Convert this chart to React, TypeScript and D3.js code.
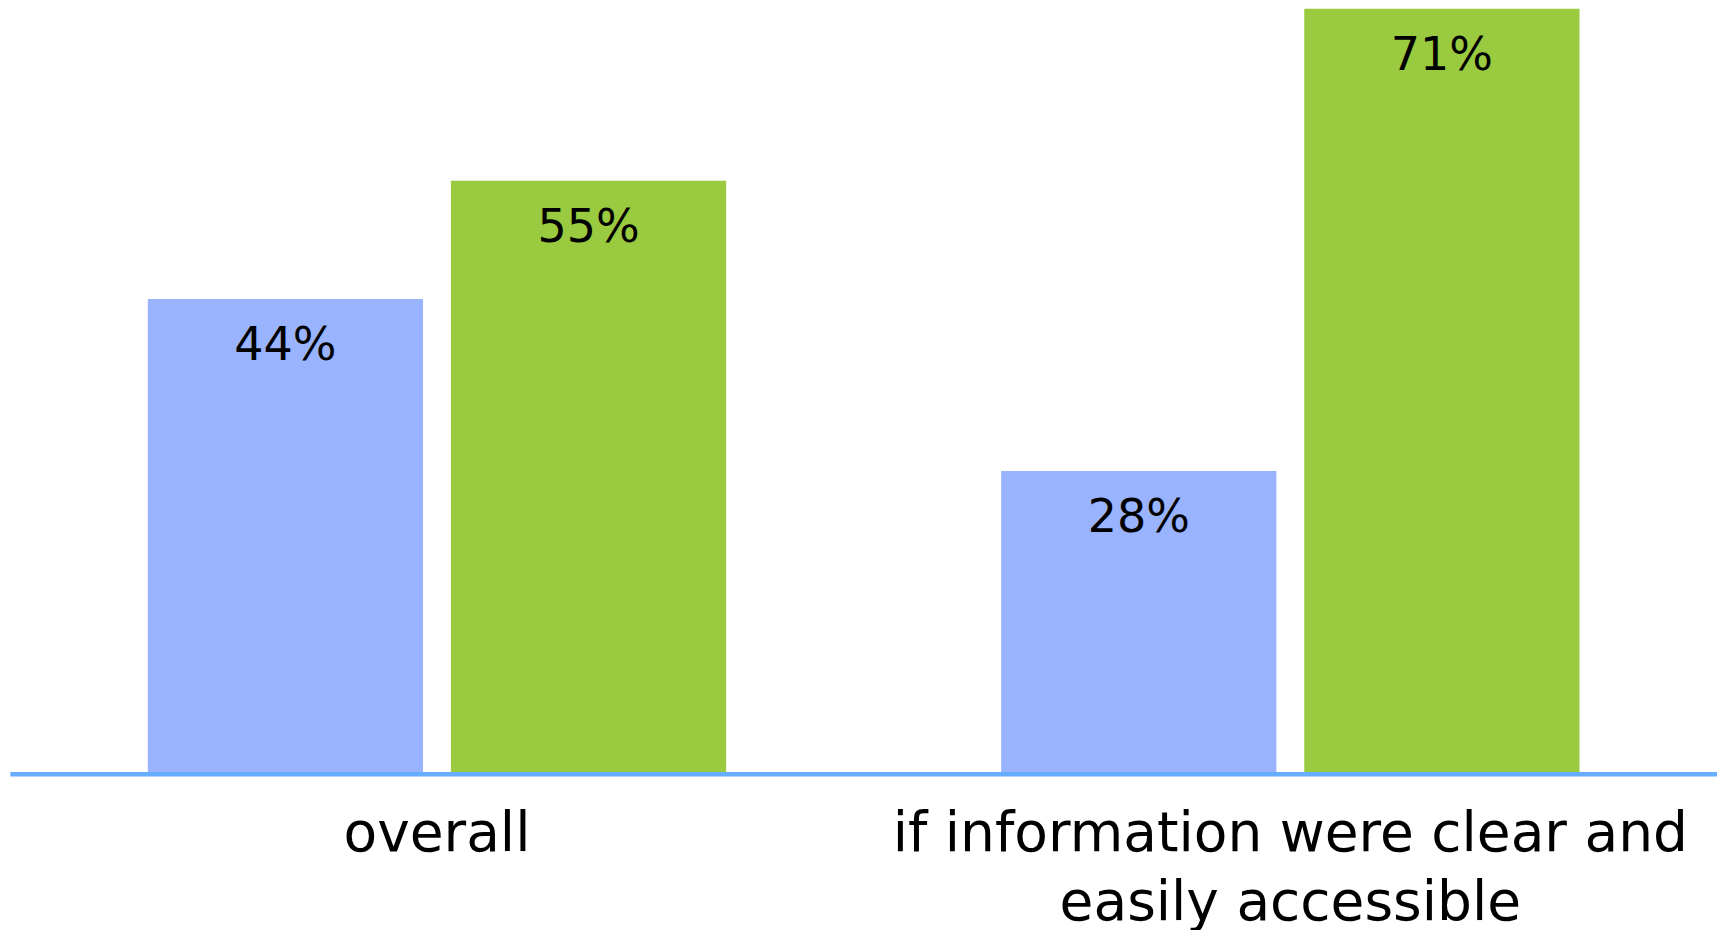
import React from "react";
import * as d3 from "d3";

const categories = ["overall", "if information were clear and easily accessible"];
const categoryLines = [["overall"], ["if information were clear and", "easily accessible"]];
const seriesNames = ["A", "B"];
const seriesA = [44, 28];
const seriesB = [55, 71];
const seriesColors = ["#99b3ff", "#9aca3f"];

const W = 1721;
const H = 930;

export default function App() {
  const x0 = d3.scaleBand<string>().domain(categories).range([10.3, 1717]).padding(0);
  const bw = x0.bandwidth();
  const x1 = d3
    .scaleBand<string>()
    .domain(seriesNames)
    .range([137.5, bw - 137.5])
    .paddingInner(0.092)
    .paddingOuter(0);
  const baseY = 772;
  const y = d3.scaleLinear().domain([0, 100]).range([baseY, baseY - 1075]);
  const values = [seriesA, seriesB];
  const font = "'DejaVu Sans', sans-serif";

  return (
    <svg
      width={W}
      height={H}
      style={{ position: "absolute", left: 0, top: 0, background: "#fff" }}
    >
      {categories.map((c, ci) => (
        <g key={c} transform={`translate(${x0(c)},0)`}>
          {seriesNames.map((s, si) => {
            const v = values[si][ci];
            const bx = x1(s)!;
            return (
              <g key={s}>
                <rect
                  x={bx}
                  y={y(v)}
                  width={x1.bandwidth()}
                  height={baseY - y(v)}
                  fill={seriesColors[si]}
                />
                <text
                  x={bx + x1.bandwidth() / 2}
                  y={y(v) + 61}
                  textAnchor="middle"
                  fontFamily={font}
                  fontSize={46}
                  fill="#000"
                >
                  {`${v}%`}
                </text>
              </g>
            );
          })}
          <text
            x={bw / 2}
            y={851}
            textAnchor="middle"
            fontFamily={font}
            fontSize={55}
            fill="#000"
          >
            {categoryLines[ci].map((line, li) => (
              <tspan key={li} x={bw / 2} dy={li === 0 ? 0 : 69}>
                {line}
              </tspan>
            ))}
          </text>
        </g>
      ))}
      <line x1={10.3} x2={1717} y1={774.3} y2={774.3} stroke="#66adff" strokeWidth={4.6} />
    </svg>
  );
}
